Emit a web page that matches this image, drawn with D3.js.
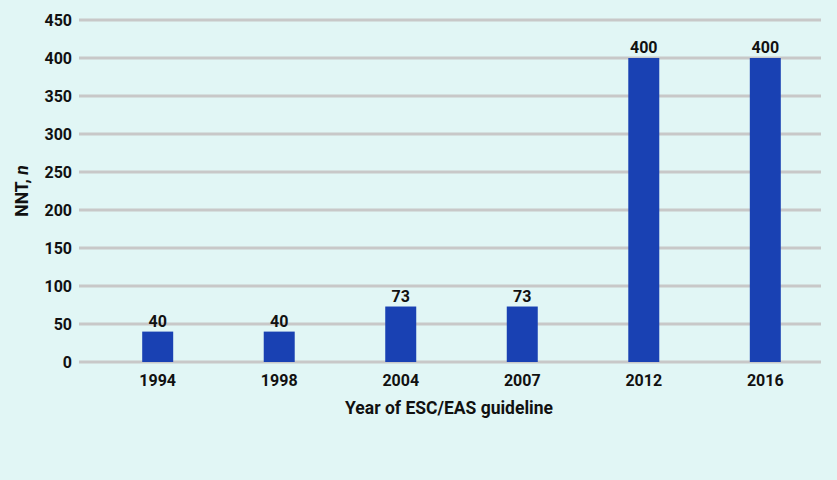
<!DOCTYPE html>
<html>
<head>
<meta charset="utf-8">
<script src="https://cdn.jsdelivr.net/npm/d3@7"></script>
<style>
  body { margin: 0; background: #e1f6f5; }
  svg { display: block; }
  text { font-family: Roboto, "DejaVu Sans", sans-serif; font-weight: bold; fill: #111; }
</style>
</head>
<body>
<svg id="chart"></svg>
<script>
var years = ["1994", "1998", "2004", "2007", "2012", "2016"];
var nnt = [40, 40, 73, 73, 400, 400];
var yTicks = [0, 50, 100, 150, 200, 250, 300, 350, 400, 450];

var W = 837, H = 480;
var svg = d3.select("#chart").attr("width", W).attr("height", H);

var y = d3.scaleLinear().domain([0, 450]).range([362, 20]);
var x = d3.scaleBand().domain(years).range([97, 826]).paddingInner(0.745).paddingOuter(0.372);

// gridlines
svg.append("g").selectAll("line")
  .data(yTicks)
  .enter().append("line")
  .attr("x1", 79).attr("x2", 821)
  .attr("y1", function(d){ return y(d); })
  .attr("y2", function(d){ return y(d); })
  .attr("stroke", "#c8c8c8")
  .attr("stroke-width", 3);

// y labels
svg.append("g").selectAll("text")
  .data(yTicks)
  .enter().append("text")
  .attr("x", 72)
  .attr("y", function(d){ return y(d); })
  .attr("dy", "0.36em")
  .attr("text-anchor", "end")
  .style("font-size", "16px")
  .text(function(d){ return d; });

var data = years.map(function(d, i){ return {year: d, value: nnt[i]}; });

svg.append("g").selectAll("rect")
  .data(data)
  .enter().append("rect")
  .attr("x", function(d){ return x(d.year); })
  .attr("width", x.bandwidth())
  .attr("y", function(d){ return y(d.value); })
  .attr("height", function(d){ return y(0) - y(d.value); })
  .attr("fill", "#1941b3");

// value labels
svg.append("g").selectAll("text")
  .data(data)
  .enter().append("text")
  .attr("x", function(d){ return x(d.year) + x.bandwidth() / 2; })
  .attr("y", function(d){ return y(d.value) - 5; })
  .attr("text-anchor", "middle")
  .style("font-size", "16px")
  .text(function(d){ return d.value; });

// x labels
svg.append("g").selectAll("text")
  .data(years)
  .enter().append("text")
  .attr("x", function(d){ return x(d) + x.bandwidth() / 2; })
  .attr("y", 386)
  .attr("text-anchor", "middle")
  .style("font-size", "16px")
  .text(function(d){ return d; });

svg.append("text")
  .attr("x", 449).attr("y", 414)
  .attr("text-anchor", "middle")
  .style("font-size", "17.5px")
  .text("Year of ESC/EAS guideline");

var yt = svg.append("text")
  .attr("transform", "translate(28,191) rotate(-90)")
  .attr("text-anchor", "middle")
  .style("font-size", "17.5px");
yt.append("tspan").text("NNT, ");
yt.append("tspan").style("font-style", "italic").text("n");
</script>
</body>
</html>
